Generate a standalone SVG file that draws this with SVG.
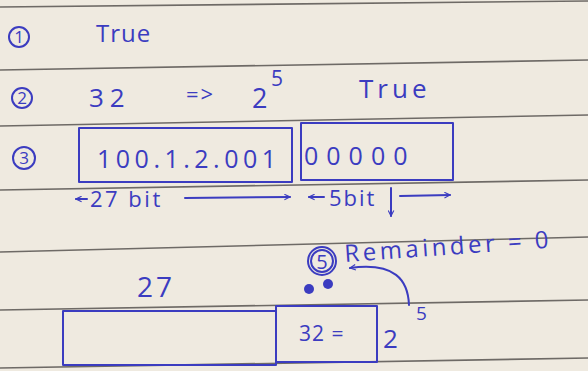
<svg xmlns="http://www.w3.org/2000/svg" width="588" height="371" viewBox="0 0 588 371">
<defs>
<style>
.rule{stroke:#6e6a66;stroke-width:1.6;fill:none}
.ink{stroke:#3b3cc0;stroke-width:2;fill:none;stroke-linecap:round;stroke-linejoin:round}
.t{font-family:"Open Sans","Liberation Sans",sans-serif;fill:#3b3cc0}
</style>
<marker id="ah" viewBox="0 0 10 10" refX="9" refY="5" markerWidth="7" markerHeight="7" orient="auto-start-reverse" markerUnits="userSpaceOnUse">
<path d="M1,1 L9,5 L1,9" fill="none" stroke="#3b3cc0" stroke-width="1.6"/>
</marker>
</defs>
<rect width="588" height="371" fill="#efeae0"/>
<g id="rules">
<path class="rule" d="M0,7 L588,1"/>
<path class="rule" d="M0,70 L588,60"/>
<path class="rule" d="M0,126 L588,115"/>
<path class="rule" d="M0,190 L588,180"/>
<path class="rule" d="M0,252 L588,237"/>
<path class="rule" d="M0,310 L588,300"/>
<path class="rule" d="M0,368 L588,358"/>
</g>
<g id="item1">
<circle class="ink" cx="19" cy="37" r="10"/>
<text class="t" x="19" y="43" font-size="17" text-anchor="middle">1</text>
<text class="t" x="96" y="42" font-size="24" letter-spacing="1">True</text>
</g>
<g id="item2">
<circle class="ink" cx="22" cy="98" r="10"/>
<text class="t" x="22" y="104" font-size="17" text-anchor="middle">2</text>
<text class="t" x="89" y="107" font-size="26" letter-spacing="6">32</text>
<text class="t" x="186" y="102" font-size="22" letter-spacing="2">=&gt;</text>
<text class="t" x="252" y="108" font-size="27">2</text>
<text class="t" x="271" y="86" font-size="21">5</text>
<text class="t" x="359" y="98" font-size="26" letter-spacing="4">True</text>
</g>
<g id="item3">
<circle class="ink" cx="24" cy="158" r="11"/>
<text class="t" x="24" y="164" font-size="17" text-anchor="middle">3</text>
<g id="net-box">
<rect class="ink" x="79" y="128" width="213" height="54"/>
<text class="t" x="97" y="168" font-size="25" letter-spacing="4.5">100.1.2.001</text>
</g>
<g id="host-box">
<rect class="ink" x="301" y="123" width="152" height="57"/>
<text class="t" x="304" y="165" font-size="25" letter-spacing="8">00000</text>
</g>
</g>
<g id="connectors">
<path class="ink" d="M87,199 L76,199" marker-end="url(#ah)"/>
<path class="ink" d="M185,198 L290,197" marker-end="url(#ah)"/>
<path class="ink" d="M324,197 L309,197" marker-end="url(#ah)"/>
<path class="ink" d="M400,196 L450,195" marker-end="url(#ah)"/>
<path class="ink" d="M391,188 L391,216" marker-end="url(#ah)"/>
<path class="ink" d="M409,305 C408,280 395,262 350,268" marker-end="url(#ah)"/>
</g>
<text class="t" x="90" y="207" font-size="22" letter-spacing="2.5">27 bit</text>
<text class="t" x="329" y="206" font-size="22" letter-spacing="2">5bit</text>
<g id="item5">
<circle class="ink" cx="322" cy="261" r="14"/>
<circle class="ink" cx="322" cy="261" r="11" stroke-width="1.4"/>
<text class="t" x="322" y="269" font-size="20" text-anchor="middle">5</text>
<circle cx="309" cy="289" r="5" fill="#3b3cc0"/>
<circle cx="328" cy="284" r="5" fill="#3b3cc0"/>
<text class="t" x="345" y="262" font-size="24" letter-spacing="3.5" transform="rotate(-4 345 262)">Remainder = 0</text>
</g>
<text class="t" x="137" y="297" font-size="28" letter-spacing="3">27</text>
<g id="bottom-left-box">
<rect class="ink" x="63" y="311" width="213" height="54"/>
</g>
<g id="bottom-right-box">
<rect class="ink" x="276" y="306" width="101" height="56"/>
<text class="t" x="299" y="341" font-size="21" letter-spacing="1">32 =</text>
<text class="t" x="383" y="348" font-size="26">2</text>
<text class="t" x="416" y="320" font-size="19">5</text>
</g>
</svg>
